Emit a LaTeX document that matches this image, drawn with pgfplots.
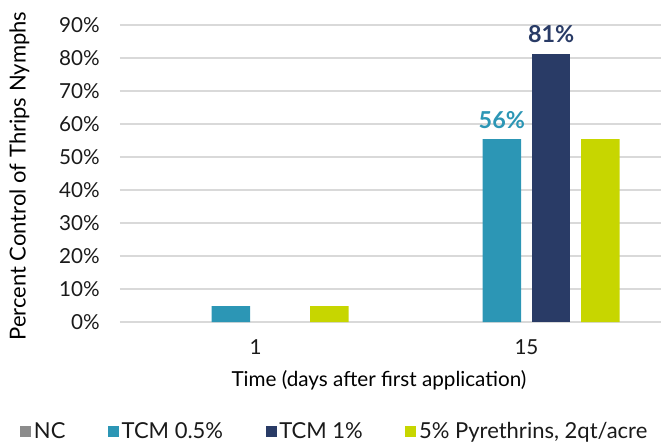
\documentclass[border=0pt]{standalone}
\usepackage{pgfplots}
\pgfplotsset{compat=1.18}
\usepackage{fontspec}
\setmainfont{Lato}
\definecolor{cNC}{HTML}{8C8C8C}
\definecolor{cT05}{HTML}{2C96B5}
\definecolor{cT1}{HTML}{293B66}
\definecolor{cPy}{HTML}{C7D600}
\definecolor{gridc}{HTML}{D9D9D9}
\definecolor{txt}{HTML}{1A1A1A}
\begin{document}
\begin{tikzpicture}
\useasboundingbox (-90pt,-91.5pt) rectangle (405.75pt,241.5pt);
\begin{axis}[
  at={(0pt,0pt)}, anchor=south west,
  scale only axis, width=406.5pt, height=222.75pt,
  xmin=-0.5, xmax=1.5, ymin=0, ymax=90,
  xtick={0,1}, xticklabels={1,15},
  ytick={0,10,...,90},
  yticklabel={\pgfmathprintnumber{\tick}\%},
  /pgf/number format/assume math mode=true,
  ymajorgrids, grid style={color=gridc, line width=0.9pt},
  axis line style={draw=none},
  major tick length=0pt,
  font=\fontsize{15.5pt}{18pt}\selectfont\color{txt},
  yticklabel style={anchor=east, inner sep=0pt, xshift=-15pt},
  xticklabel style={anchor=north, inner sep=0pt, yshift=-13pt},
  xlabel={Time (days after first application)},
  xlabel style={at={(axis description cs:0.5,0)}, anchor=center, yshift=-43.5pt, xshift=-9pt, inner sep=0pt,
    font=\fontsize{15.5pt}{18pt}\selectfont},
  ylabel={Percent Control of Thrips Nymphs},
  ylabel style={at={(axis description cs:0,0.5)}, anchor=center, yshift=75.5pt, xshift=-2pt, inner sep=0pt,
    font=\fontsize{16.5pt}{18pt}\selectfont},
  ybar, bar width=0.142,
  legend columns=4,
  legend style={at={(axis description cs:0.397,0)}, anchor=center, yshift=-82pt, draw=none, fill=none,
    font=\fontsize{16.5pt}{18pt}\selectfont\color{txt},
    /tikz/every even column/.append style={column sep=30pt}},
  legend image code/.code={\fill[#1] (0pt,-4.1pt) rectangle (8.2pt,4.1pt);},
  nodes near coords, point meta=explicit symbolic,
  every node near coord/.append style={font=\fontsize{17.5pt}{20pt}\selectfont\bfseries, anchor=south, inner sep=0pt, yshift=8pt},
]
\addlegendimage{fill=cNC, draw=none}
\addlegendentry{NC}
\addplot[fill=cT05, draw=none, bar shift=-0.091, every node near coord/.append style={text=cT05}] coordinates {(0,4.8) [] (1,55.4) [56\%]};
\addlegendentry{TCM 0.5\%}
\addplot[fill=cT1, draw=none, bar shift=0.091, every node near coord/.append style={text=cT1}] coordinates {(1,81.3) [81\%]};
\addlegendentry{TCM 1\%}
\addplot[fill=cPy, draw=none, bar shift=0.273] coordinates {(0,4.8) [] (1,55.4) []};
\addlegendentry{5\% Pyrethrins, 2qt/acre}
\end{axis}
\end{tikzpicture}
\end{document}
